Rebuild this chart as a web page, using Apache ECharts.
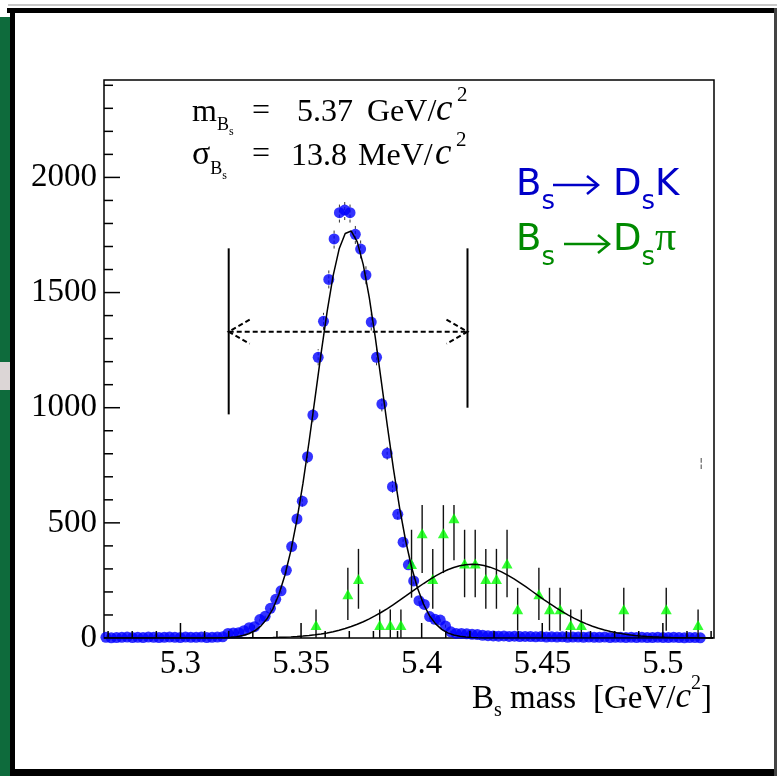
<!DOCTYPE html>
<html>
<head>
<meta charset="utf-8">
<script src="https://cdn.jsdelivr.net/npm/echarts@6/dist/echarts.min.js"></script>
<style>
  html, body { margin: 0; padding: 0; background: #fff; }
  #chart { width: 777px; height: 776px; }
</style>
</head>
<body>
<div id="chart"></div>
<script>
// ---- B_s -> D_s K candidates: 2.2 MeV bins starting at 5.2691 GeV/c^2 ----
const dskBinStart = 5.2691;
const dskBinWidth = 0.0022;
const dskCounts = [
  3, 1, 2, 3, 4, 2, 3, 2, 4, 3, 2, 3, 4, 3, 2, 4, 3, 3, 4, 2, 3, 4, 5,
  20, 22, 23, 32, 45, 49, 80, 94, 129, 168, 205, 294, 397, 517, 594, 787, 968, 1219, 1375, 1557,
  1733, 1847, 1858, 1847, 1753, 1689, 1576, 1372, 1219, 1016, 802, 657, 537, 416, 318, 248,
  162, 146, 93, 81, 78, 52, 27,
  20, 20, 18, 16, 15, 12, 10, 9, 8, 9, 7, 8, 6, 7, 6, 5, 6, 4, 5, 4, 5, 3, 4, 4, 3, 4, 3, 3,
  4, 2, 3, 3, 2, 3, 2, 3, 2, 2, 3, 2, 2, 3, 2, 1, 2, 2, 1
];
const dskErrors = [
  2, 1, 1, 2, 2, 1, 2, 1, 2, 2, 1, 2, 2, 2, 1, 2, 2, 2, 2, 1, 2, 2, 2,
  4, 5, 5, 6, 7, 7, 9, 10, 11, 13, 14,
  17, 20, 23, 24, 28, 31, 35, 37, 39, 42, 43, 43, 43, 42, 41, 40, 37, 35, 32, 28,
  26, 23, 20, 18, 16, 13, 12, 10, 9, 9, 7, 5,
  4, 4, 4, 4, 4, 3, 3, 3, 3, 3, 3, 3, 2, 3, 2, 2, 2, 2, 2, 2, 2, 2, 2, 2, 2, 2, 2, 2, 2, 1,
  2, 2, 1, 2, 1, 2, 1, 1, 2, 1, 1, 2, 1, 1, 1, 1, 1
];

// ---- B_s -> D_s pi misidentified background (weighted entries) ----
const dspiMass = [
  5.3562, 5.3694, 5.3738, 5.3826, 5.3870, 5.3914, 5.3958, 5.4002, 5.4046, 5.4090,
  5.4134, 5.4178, 5.4222, 5.4266, 5.4310, 5.4354, 5.4398, 5.4486, 5.4530, 5.4574,
  5.4618, 5.4662, 5.4838, 5.5014, 5.5146
];
const dspiCounts = [
  56, 190, 256, 56, 56, 56, 321, 455, 256, 455,
  520, 324, 324, 256, 256, 324, 125, 190, 125, 125,
  56, 56, 125, 125, 56
];
const dspiLow = [
  0, 78, 127, 0, 0, 0, 175, 282, 127, 282,
  338, 177, 177, 127, 127, 177, 32, 78, 32, 32,
  0, 0, 32, 32, 0
];
const dspiHigh = [
  124, 305, 387, 124, 124, 124, 470, 577, 387, 577,
  577, 470, 470, 387, 387, 470, 218, 305, 218, 218,
  124, 124, 218, 218, 124
];

// ---- Gaussian fits ----
const dskFit = { mean: 5.37, sigma: 0.0138, norm: 1770 };
const dspiFit = { mean: 5.421, sigma: 0.026, norm: 320 };

// ---- axes ----
const massRange = [5.2683, 5.5212];
const countRange = [0, 2423];
const xTickLabels = [5.3, 5.35, 5.4, 5.45, 5.5];
const yTickLabels = [0, 500, 1000, 1500, 2000];

// ---- signal mass window (GeV/c^2) and its marker heights ----
const massWindow = [5.32, 5.419];
const windowBarLow = [971, 1000];
const windowBarHigh = [1692, 1692];
const windowArrowLevel = 1330;

// -------------------------------------------------------------------
const serif = 'Liberation Serif';
const sans = 'DejaVu Sans';

const dskPoints = dskCounts.map((c, i) => [dskBinStart + i * dskBinWidth, c]);
const dspiPoints = dspiCounts.map((c, i) => [dspiMass[i], c]);

function gaussCurve(p) {
  const pts = [];
  const step = 0.0025;
  for (let x = massRange[0]; x <= massRange[1] + 1e-9; x += step) {
    const z = (x - p.mean) / p.sigma;
    pts.push([x, p.norm * Math.exp(-0.5 * z * z)]);
  }
  return pts;
}

// tick marks drawn inside the frame
const tickList = [];
for (let k = 527; k <= 552; k++) {
  const v = k / 100;
  const major = xTickLabels.some(t => Math.abs(t - v) < 1e-9);
  if (v > massRange[0] && v < massRange[1]) tickList.push({ axis: 'x', v, major });
}
xTickLabels.forEach(v => {
  if (!tickList.some(t => t.axis === 'x' && Math.abs(t.v - v) < 1e-9)) tickList.push({ axis: 'x', v, major: true });
});
for (let v = 100; v < countRange[1]; v += 100) {
  tickList.push({ axis: 'y', v, major: yTickLabels.includes(v) });
}

function labelFor(list) {
  return v => {
    const hit = list.find(t => Math.abs(t - v) < 1e-6);
    return hit === undefined ? '' : String(hit);
  };
}

// rich text placed by baseline; parts: {t, size, dy, italic, sans, color}
function richText(x, baseline, parts, align) {
  const L = 100, base = 70;
  const rich = {};
  let text = '';
  parts.forEach((p, i) => {
    const k = p.sans ? 0.846 : 0.8375;
    rich['p' + i] = {
      fontFamily: p.sans ? sans : serif,
      fontSize: p.size,
      fontStyle: p.italic ? 'italic' : 'normal',
      fill: p.color || '#000',
      verticalAlign: 'top',
      lineHeight: L,
      padding: [base + (p.dy || 0) - k * p.size, 0, 0, 0]
    };
    text += '{p' + i + '|' + p.t + '}';
  });
  return {
    type: 'text', x: x, y: baseline - base, z: 20, silent: true,
    style: { text: text, rich: rich, align: align || 'left', verticalAlign: 'top', lineHeight: L }
  };
}

const blue = '#0000c8';
const green = '#008a00';

const graphics = [
  // slide frame around the plot
  { type: 'rect', shape: { x: 8, y: 4, width: 769, height: 2 }, style: { fill: '#c8c8c8' }, z: 0, silent: true },
  { type: 'rect', shape: { x: 7, y: 8, width: 770, height: 5 }, style: { fill: '#000' }, z: 0, silent: true },
  { type: 'rect', shape: { x: 0, y: 17, width: 10, height: 759 }, style: { fill: '#0e6b3c' }, z: 0, silent: true },
  { type: 'rect', shape: { x: 0, y: 362, width: 10, height: 28 }, style: { fill: '#dcd6d6' }, z: 0, silent: true },
  { type: 'rect', shape: { x: 10, y: 8, width: 5, height: 768 }, style: { fill: '#000' }, z: 0, silent: true },
  { type: 'rect', shape: { x: 10, y: 769, width: 767, height: 7 }, style: { fill: '#000' }, z: 0, silent: true },
  { type: 'rect', shape: { x: 774, y: 8, width: 3, height: 768 }, style: { fill: '#444' }, z: 0, silent: true },

  // fit results
  richText(192, 123, [{ t: 'm', size: 32 }, { t: 'B', size: 18, dy: 8 }, { t: 's', size: 12, dy: 13 }]),
  richText(252, 122, [{ t: '=', size: 32 }]),
  richText(297, 123, [{ t: '5.37', size: 32 }]),
  richText(367, 123, [{ t: 'GeV/', size: 32 }]),
  richText(436, 123, [{ t: 'c', size: 37, italic: true }]),
  richText(457, 103, [{ t: '2', size: 21 }]),

  richText(192, 167, [{ t: 'σ', size: 34 }, { t: 'B', size: 18, dy: 8 }, { t: 's', size: 12, dy: 13 }]),
  richText(252, 165, [{ t: '=', size: 32 }]),
  richText(291, 167, [{ t: '13.8', size: 32 }]),
  richText(358, 167, [{ t: 'MeV/', size: 32 }]),
  richText(435, 167, [{ t: 'c', size: 37, italic: true }]),
  richText(456, 148, [{ t: '2', size: 21 }]),

  // decay channel labels
  richText(516, 198, [{ t: 'B', size: 37, sans: true, color: blue }, { t: 's', size: 26, dy: 13.5, sans: true, color: blue }]),
  richText(613, 198, [{ t: 'D', size: 37, sans: true, color: blue }, { t: 's', size: 26, dy: 13.5, sans: true, color: blue }, { t: 'K', size: 37, sans: true, color: blue }]),
  { type: 'line', shape: { x1: 553, y1: 185, x2: 597, y2: 185 }, style: { stroke: blue, lineWidth: 2.5 }, z: 20, silent: true },
  { type: 'polyline', shape: { points: [[587, 176], [598, 185], [587, 194]] }, style: { stroke: blue, lineWidth: 2.5, fill: null }, z: 20, silent: true },

  richText(516, 253, [{ t: 'B', size: 37, sans: true, color: green }, { t: 's', size: 26, dy: 14, sans: true, color: green }]),
  richText(613, 253, [{ t: 'D', size: 37, sans: true, color: green }, { t: 's', size: 26, dy: 14, sans: true, color: green }, { t: 'π', size: 42, color: green }]),
  { type: 'line', shape: { x1: 564, y1: 244, x2: 608, y2: 244 }, style: { stroke: green, lineWidth: 2.5 }, z: 20, silent: true },
  { type: 'polyline', shape: { points: [[598, 235], [609, 244], [598, 253]] }, style: { stroke: green, lineWidth: 2.5, fill: null }, z: 20, silent: true },

  // axis title
  richText(472, 710, [{ t: 'B', size: 33 }, { t: 's', size: 20, dy: 7 }, { t: ' mass', size: 33 }]),
  richText(712, 710, [{ t: '[GeV/', size: 33 }, { t: 'c', size: 35, italic: true }, { t: '2', size: 20, dy: -20 }, { t: ']', size: 33 }], 'right'),

  // stray mark near the right frame
  richText(699, 468, [{ t: '¦', size: 13, sans: true, color: '#555' }])
];

const chart = echarts.init(document.getElementById('chart'), null, { renderer: 'canvas' });

chart.setOption({
  animation: false,
  backgroundColor: '#fff',
  grid: {
    left: 104, top: 80, width: 610, height: 558,
    show: true, borderColor: '#000', borderWidth: 1.5, backgroundColor: 'transparent'
  },
  xAxis: {
    type: 'value', min: massRange[0], max: massRange[1], splitNumber: 5,
    axisLine: { show: false }, axisTick: { show: false }, splitLine: { show: false },
    axisLabel: {
      formatter: labelFor(xTickLabels), fontFamily: serif, fontSize: 33, color: '#000', margin: 10,
      showMinLabel: true, showMaxLabel: true
    }
  },
  yAxis: {
    type: 'value', min: countRange[0], max: countRange[1], splitNumber: 5,
    axisLine: { show: false }, axisTick: { show: false }, splitLine: { show: false },
    axisLabel: {
      formatter: labelFor(yTickLabels), fontFamily: serif, fontSize: 33, color: '#000', margin: 7
    }
  },
  graphic: graphics,
  series: [
    {
      // statistical errors of the D_s K histogram
      type: 'custom', z: 2, silent: true,
      data: dskPoints,
      renderItem: (params, api) => {
        const i = params.dataIndex;
        const x = api.value(0), y = api.value(1), e = dskErrors[i];
        const a = api.coord([x, Math.max(0, y - e)]);
        const b = api.coord([x, y + e]);
        return { type: 'line', shape: { x1: a[0], y1: a[1], x2: b[0], y2: b[1] },
                 style: { stroke: '#333', lineWidth: 1, lineDash: [3, 2] } };
      }
    },
    {
      type: 'scatter', name: 'DsK', z: 3, silent: true,
      data: dskPoints, symbol: 'circle', symbolSize: 11,
      itemStyle: { color: '#0000ff' }
    },
    {
      // error bars of the D_s pi histogram
      type: 'custom', z: 4, silent: true,
      data: dspiPoints,
      renderItem: (params, api) => {
        const i = params.dataIndex;
        const x = api.value(0);
        const a = api.coord([x, dspiLow[i]]);
        const b = api.coord([x, dspiHigh[i]]);
        return { type: 'line', shape: { x1: a[0], y1: a[1], x2: b[0], y2: b[1] },
                 style: { stroke: '#111', lineWidth: 1.4 } };
      }
    },
    {
      type: 'scatter', name: 'Dspi', z: 5, silent: true,
      data: dspiPoints, symbol: 'triangle', symbolSize: [11, 10],
      itemStyle: { color: '#00ff00' }
    },
    {
      type: 'line', z: 6, silent: true, showSymbol: false, smooth: false,
      data: gaussCurve(dskFit), lineStyle: { color: '#000', width: 1.5 }
    },
    {
      type: 'line', z: 6, silent: true, showSymbol: false, smooth: false,
      data: gaussCurve(dspiFit), lineStyle: { color: '#000', width: 1.5 }
    },
    {
      // mass window: bounding bars and dashed double arrow
      type: 'custom', z: 7, silent: true,
      data: [[massWindow[0], windowArrowLevel]],
      renderItem: (params, api) => {
        const children = [];
        massWindow.forEach((m, k) => {
          const a = api.coord([m, windowBarLow[k]]);
          const b = api.coord([m, windowBarHigh[k]]);
          children.push({ type: 'line', shape: { x1: a[0], y1: a[1], x2: b[0], y2: b[1] },
                          style: { stroke: '#000', lineWidth: 2 } });
        });
        const l = api.coord([massWindow[0], windowArrowLevel]);
        const r = api.coord([massWindow[1], windowArrowLevel]);
        const dash = { stroke: '#000', lineWidth: 2, lineDash: [5, 3] };
        children.push({ type: 'line', shape: { x1: l[0], y1: l[1], x2: r[0], y2: r[1] }, style: dash });
        children.push({ type: 'polyline', shape: { points: [[l[0] + 21, l[1] - 12], [l[0], l[1]], [l[0] + 21, l[1] + 12]] },
                        style: Object.assign({ fill: null }, dash) });
        children.push({ type: 'polyline', shape: { points: [[r[0] - 21, r[1] - 12], [r[0], r[1]], [r[0] - 21, r[1] + 12]] },
                        style: Object.assign({ fill: null }, dash) });
        return { type: 'group', children: children };
      }
    },
    {
      // inward tick marks on both axes
      type: 'custom', z: 8, silent: true,
      data: tickList.map(t => [t.axis === 'x' ? t.v : massRange[0], t.axis === 'y' ? t.v : 0]),
      renderItem: (params, api) => {
        const t = tickList[params.dataIndex];
        const p = api.coord([api.value(0), api.value(1)]);
        let shape;
        if (t.axis === 'x') {
          const len = t.major ? 15 : 7;
          shape = { x1: p[0], y1: p[1], x2: p[0], y2: p[1] - len };
        } else {
          const len = t.major ? 16 : 9;
          shape = { x1: p[0], y1: p[1], x2: p[0] + len, y2: p[1] };
        }
        return { type: 'line', shape: shape, style: { stroke: '#000', lineWidth: 1.5 } };
      }
    }
  ]
});
</script>
</body>
</html>
